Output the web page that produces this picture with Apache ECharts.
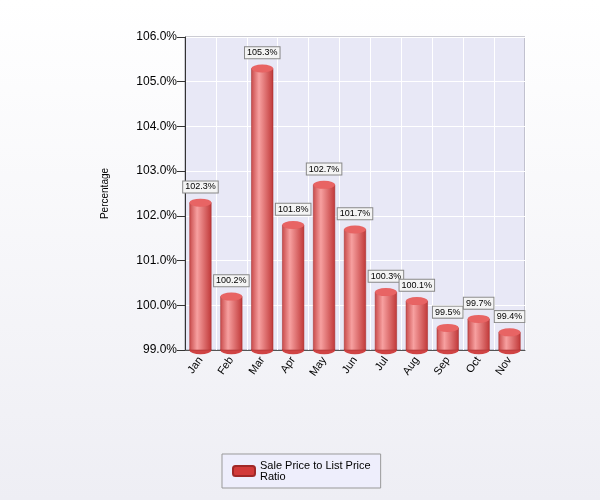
<!DOCTYPE html>
<html><head><meta charset="utf-8">
<script src="https://cdn.jsdelivr.net/npm/echarts@6/dist/echarts.min.js"></script>
<style>html,body{margin:0;padding:0;background:#fff}#c{width:600px;height:500px}</style>
</head><body><div id="c"></div>
<script>
const categories=['Jan','Feb','Mar','Apr','May','Jun','Jul','Aug','Sep','Oct','Nov'];
const values=[102.3,100.2,105.3,101.8,102.7,101.7,100.3,100.1,99.5,99.7,99.4];
const yTicks=[99,100,101,102,103,104,105,106];
const seriesName='Sale Price to List Price Ratio';
const chart=echarts.init(document.getElementById('c'));
const grad=new echarts.graphic.LinearGradient(0,0,1,0,[{offset:0,color:'#c84a4a'},{offset:0.35,color:'#f7a0a0'},{offset:1,color:'#c03838'}]);
chart.setOption({
  backgroundColor:{type:'linear',x:0,y:0,x2:0,y2:1,colorStops:[{offset:0,color:'#ffffff'},{offset:1,color:'#eeeef4'}]},
  grid:{left:185,right:75,top:37,bottom:150,backgroundColor:'#e8e8f6',show:true,borderColor:'#9a9aa8'},
  legend:{bottom:12,left:222,itemWidth:22,itemHeight:10,backgroundColor:'#eeeefc',borderColor:'#999',borderWidth:1,padding:[6,10],
    textStyle:{fontSize:11,color:'#000',width:120,overflow:'break'},data:[{name:seriesName,itemStyle:{color:'#d23a3a'}}],
    formatter:()=> 'Sale Price to List Price\nRatio'},
  xAxis:{type:'category',data:categories,axisLabel:{rotate:55,fontSize:11,color:'#000'},axisTick:{show:false},
    axisLine:{lineStyle:{color:'#555'}},splitLine:{show:true,lineStyle:{color:'#fff'}}},
  yAxis:{type:'value',min:99,max:106,interval:1,name:'Percentage',nameLocation:'middle',nameGap:75,nameRotate:90,
    nameTextStyle:{fontSize:10,color:'#000'},
    axisLabel:{formatter:v=>v.toFixed(1)+'%',fontSize:12,color:'#000'},axisLine:{show:true,lineStyle:{color:'#333'}},
    axisTick:{show:true,length:8,lineStyle:{color:'#333'}},splitLine:{lineStyle:{color:'#fff'}}},
  series:[
    {name:seriesName,type:'bar',data:values,barWidth:22,itemStyle:{color:grad,borderColor:'#a02828',borderWidth:0.5},
     label:{show:true,position:'top',distance:10,formatter:p=>p.value.toFixed(1)+'%',fontSize:9,color:'#000',
       backgroundColor:'#f4f4f4',borderColor:'#888',borderWidth:1,padding:[1,2]}},
    {type:'pictorialBar',data:values,symbol:'circle',symbolSize:[22,8],symbolPosition:'end',symbolOffset:[0,'-50%'],
     itemStyle:{color:'#e86464',borderColor:'#a02828',borderWidth:0.8},z:3,silent:true,tooltip:{show:false}},
    {type:'pictorialBar',data:values.map(()=>99),symbol:'circle',symbolSize:[22,8],symbolPosition:'end',symbolOffset:[0,'-50%'],
     itemStyle:{color:'#d04444',borderColor:'#a02828',borderWidth:0.8},z:1,silent:true}
  ]
});
</script></body></html>
